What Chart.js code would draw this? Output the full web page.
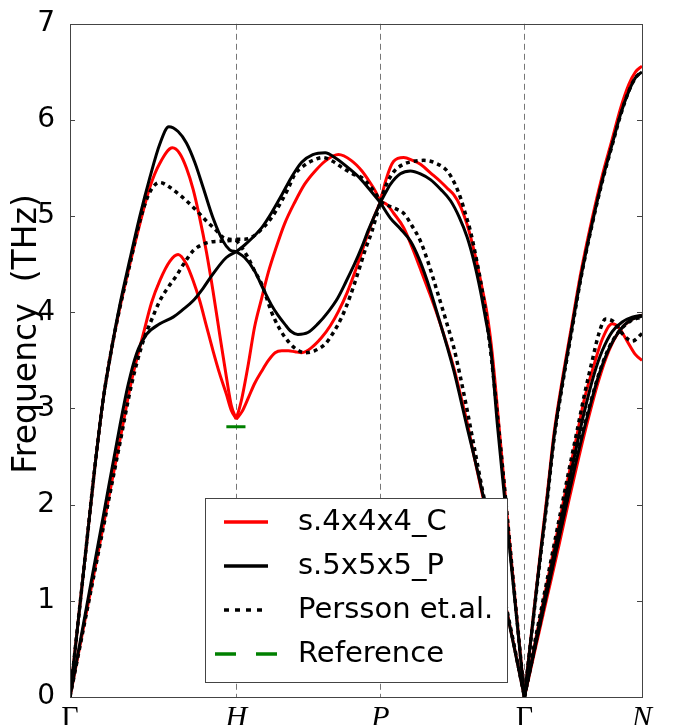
<!DOCTYPE html>
<html lang="en">
<head>
  <meta charset="UTF-8">
  <title>Phonon dispersion</title>
  <script src="https://cdn.jsdelivr.net/npm/chart.js@4.4.0/dist/chart.umd.min.js"></script>
  <style>
    body { margin: 0; background: #fff; }
  </style>
</head>
<body>
  <canvas id="myChart" width="676" height="725"></canvas>
  <script>
    // high symmetry path, distances in 2pi/a
    const kLabels = ['Γ', 'H', 'P', 'Γ', 'N']
    const kPoints = [0, 1, 1.866, 2.732, 3.439]

    // s.4x4x4_C  (red)
    const red_GH_a = [[0,0],[0.05,0.8],[0.1,1.6],[0.15,2.4],[0.2,3.1],[0.25,3.62],[0.3,4.05],[0.36,4.5],[0.42,4.92],[0.48,5.3],[0.54,5.55],[0.616,5.71],[0.66,5.65],[0.7,5.5],[0.74,5.28],[0.78,4.98],[0.82,4.63],[0.86,4.22],[0.9,3.77],[0.94,3.33],[0.97,3.03],[1,2.89]]
    const red_GH_b = [[0,0],[0.1,0.89],[0.2,1.78],[0.3,2.67],[0.37,3.29],[0.44,3.77],[0.49,4.1],[0.54,4.33],[0.6,4.53],[0.65,4.6],[0.7,4.5],[0.74,4.33],[0.78,4.12],[0.82,3.86],[0.86,3.6],[0.9,3.36],[0.94,3.15],[0.97,2.98],[1,2.89]]
    const red_HP_a = [[1,2.89],[1.03,3.08],[1.072,3.46],[1.11,3.85],[1.153,4.15],[1.193,4.42],[1.233,4.64],[1.29,4.92],[1.353,5.15],[1.41,5.33],[1.474,5.47],[1.54,5.58],[1.614,5.64],[1.69,5.58],[1.755,5.47],[1.8,5.36],[1.836,5.26],[1.866,5.15]]
    const red_HP_b = [[1,2.89],[1.035,2.97],[1.072,3.11],[1.11,3.26],[1.153,3.39],[1.193,3.5],[1.233,3.58],[1.273,3.6],[1.313,3.6],[1.353,3.59],[1.393,3.58],[1.45,3.63],[1.514,3.74],[1.565,3.86],[1.614,4.01],[1.665,4.2],[1.715,4.43],[1.755,4.63],[1.795,4.84],[1.83,5],[1.866,5.15]]
    const red_PG_a = [[1.866,5.15],[1.9,5.38],[1.946,5.57],[2.006,5.61],[2.06,5.58],[2.107,5.54],[2.167,5.45],[2.227,5.36],[2.268,5.29],[2.308,5.22],[2.348,5.1],[2.388,4.91],[2.418,4.72],[2.448,4.5],[2.478,4.25],[2.508,3.98],[2.54,3.55],[2.578,2.84],[2.62,2.04],[2.66,1.3],[2.7,0.58],[2.732,0]]
    const red_PG_b = [[1.866,5.15],[1.906,5.12],[1.946,5.03],[2.006,4.88],[2.056,4.68],[2.107,4.45],[2.157,4.22],[2.207,3.98],[2.258,3.71],[2.308,3.42],[2.348,3.14],[2.388,2.85],[2.43,2.5],[2.48,2.1],[2.55,1.55],[2.61,1.03],[2.67,0.53],[2.732,0]]
    const red_GN_a = [[2.732,0],[2.78,0.75],[2.83,1.53],[2.87,2.12],[2.91,2.74],[2.96,3.3],[3.01,3.8],[3.07,4.4],[3.14,4.98],[3.2,5.42],[3.26,5.8],[3.31,6.12],[3.36,6.37],[3.4,6.5],[3.439,6.56]]
    const red_GN_b = [[2.732,0],[2.8,0.6],[2.87,1.2],[2.94,1.8],[3,2.32],[3.05,2.74],[3.09,3.08],[3.15,3.45],[3.2,3.72],[3.26,3.88],[3.3,3.84],[3.35,3.7],[3.4,3.56],[3.439,3.5]]
    const red_GN_c = [[2.732,0],[2.8,0.52],[2.87,1.05],[2.94,1.58],[3,2.05],[3.06,2.5],[3.12,2.92],[3.18,3.3],[3.24,3.6],[3.3,3.8],[3.37,3.92],[3.439,3.97]]

    // s.5x5x5_P  (black)
    const blk_GH_a = [[0,0],[0.05,0.8],[0.1,1.6],[0.15,2.4],[0.2,3.1],[0.25,3.62],[0.3,4.08],[0.36,4.55],[0.42,5],[0.48,5.4],[0.54,5.75],[0.594,5.93],[0.65,5.88],[0.7,5.76],[0.75,5.56],[0.8,5.3],[0.86,4.98],[0.92,4.74],[0.96,4.65],[1,4.63]]
    const blk_GH_b = [[0,0],[0.1,0.94],[0.2,1.88],[0.3,2.82],[0.35,3.25],[0.4,3.57],[0.46,3.77],[0.54,3.88],[0.62,3.95],[0.68,4.03],[0.74,4.12],[0.8,4.25],[0.86,4.4],[0.94,4.57],[1,4.63]]
    const blk_HP_a = [[1,4.63],[1.05,4.7],[1.1,4.78],[1.153,4.88],[1.21,5.03],[1.273,5.22],[1.33,5.4],[1.393,5.56],[1.46,5.64],[1.534,5.66],[1.6,5.6],[1.675,5.5],[1.74,5.4],[1.795,5.29],[1.866,5.14]]
    const blk_HP_b = [[1,4.63],[1.05,4.57],[1.11,4.43],[1.16,4.25],[1.21,4.08],[1.25,3.97],[1.29,3.88],[1.33,3.8],[1.37,3.77],[1.43,3.79],[1.49,3.88],[1.55,4],[1.61,4.15],[1.66,4.32],[1.71,4.5],[1.755,4.68],[1.795,4.86],[1.83,5],[1.866,5.14]]
    const blk_PG_a = [[1.866,5.14],[1.896,5.24],[1.926,5.33],[1.986,5.44],[2.047,5.47],[2.107,5.44],[2.167,5.38],[2.228,5.28],[2.288,5.16],[2.34,4.99],[2.388,4.78],[2.43,4.52],[2.468,4.22],[2.5,3.92],[2.529,3.63],[2.569,2.84],[2.61,2.12],[2.65,1.42],[2.69,0.74],[2.732,0]]
    const blk_PG_b = [[1.866,5.14],[1.926,4.98],[1.986,4.87],[2.047,4.74],[2.1,4.55],[2.147,4.33],[2.187,4.11],[2.227,3.88],[2.268,3.64],[2.308,3.39],[2.348,3.1],[2.388,2.8],[2.43,2.5],[2.488,2.06],[2.55,1.53],[2.61,1.02],[2.67,0.52],[2.732,0]]
    const blk_GN_a = [[2.732,0],[2.78,0.74],[2.83,1.5],[2.87,2.08],[2.91,2.7],[2.96,3.26],[3.01,3.76],[3.07,4.35],[3.14,4.93],[3.2,5.37],[3.26,5.75],[3.31,6.06],[3.36,6.3],[3.4,6.44],[3.439,6.5]]
    const blk_GN_b = [[2.732,0],[2.8,0.58],[2.87,1.16],[2.94,1.74],[3,2.24],[3.05,2.64],[3.09,2.95],[3.15,3.35],[3.2,3.6],[3.26,3.8],[3.32,3.9],[3.38,3.95],[3.439,3.97]]
    const blk_GN_c = [[2.732,0],[2.8,0.55],[2.87,1.1],[2.94,1.65],[3,2.12],[3.05,2.5],[3.12,2.98],[3.18,3.35],[3.24,3.62],[3.3,3.8],[3.37,3.92],[3.439,3.96]]

    // Persson et.al.  (dotted)
    const per_GH_a = [[0,0],[0.05,0.8],[0.1,1.6],[0.15,2.4],[0.2,3.1],[0.25,3.62],[0.3,4.05],[0.36,4.5],[0.42,4.95],[0.48,5.25],[0.54,5.35],[0.6,5.3],[0.66,5.22],[0.7,5.16],[0.76,5.06],[0.82,4.95],[0.88,4.85],[0.92,4.78],[1,4.75]]
    const per_GH_b = [[0,0],[0.1,0.88],[0.2,1.76],[0.3,2.64],[0.37,3.25],[0.44,3.7],[0.49,3.92],[0.54,4.12],[0.59,4.26],[0.64,4.38],[0.69,4.52],[0.74,4.64],[0.79,4.7],[0.84,4.73],[0.9,4.74],[1,4.75]]
    const per_HP_a = [[1,4.76],[1.05,4.76],[1.092,4.78],[1.15,4.86],[1.21,4.98],[1.27,5.15],[1.31,5.28],[1.35,5.43],[1.41,5.53],[1.474,5.59],[1.52,5.61],[1.58,5.57],[1.64,5.5],[1.7,5.44],[1.755,5.4],[1.8,5.32],[1.836,5.24],[1.866,5.15]]
    const per_HP_b = [[1,4.75],[1.03,4.68],[1.07,4.57],[1.11,4.43],[1.153,4.29],[1.18,4.16],[1.21,4.01],[1.25,3.86],[1.293,3.74],[1.35,3.63],[1.414,3.58],[1.47,3.6],[1.534,3.67],[1.58,3.78],[1.634,3.95],[1.685,4.17],[1.735,4.43],[1.775,4.65],[1.815,4.84],[1.866,5.15]]
    const per_PG_a = [[1.866,5.15],[1.9,5.32],[1.946,5.46],[2.006,5.54],[2.067,5.57],[2.127,5.58],[2.2,5.55],[2.268,5.47],[2.31,5.35],[2.348,5.19],[2.378,5.02],[2.408,4.84],[2.438,4.6],[2.468,4.33],[2.5,3.98],[2.535,3.5],[2.575,2.84],[2.62,2.04],[2.66,1.3],[2.7,0.58],[2.732,0]]
    const per_PG_b = [[1.866,5.15],[1.926,5.1],[1.966,5.07],[2.006,5.03],[2.056,4.9],[2.107,4.74],[2.157,4.5],[2.207,4.22],[2.258,3.93],[2.308,3.63],[2.348,3.32],[2.388,2.98],[2.43,2.6],[2.48,2.15],[2.55,1.58],[2.61,1.05],[2.67,0.54],[2.732,0]]
    const per_GN_a = [[2.732,0],[2.78,0.73],[2.83,1.48],[2.87,2.06],[2.91,2.68],[2.96,3.24],[3.01,3.74],[3.07,4.34],[3.14,4.92],[3.2,5.36],[3.26,5.74],[3.31,6.05],[3.36,6.3],[3.4,6.44],[3.439,6.5]]
    const per_GN_b = [[2.732,0],[2.8,0.62],[2.87,1.23],[2.94,1.84],[3,2.36],[3.05,2.78],[3.09,3.12],[3.14,3.5],[3.18,3.78],[3.22,3.93],[3.27,3.9],[3.32,3.78],[3.38,3.7],[3.439,3.78]]
    const per_GN_c = [[2.732,0],[2.8,0.56],[2.87,1.12],[2.94,1.68],[3,2.15],[3.05,2.55],[3.12,3],[3.18,3.36],[3.24,3.63],[3.3,3.8],[3.37,3.91],[3.439,3.95]]

    // Reference value at H
    const ref_H = [[0.94,2.81],[1.055,2.81]]

    const redBands = [red_GH_a, red_GH_b, red_HP_a, red_HP_b, red_PG_a, red_PG_b, red_GN_a, red_GN_b, red_GN_c]
    const blkBands = [blk_GH_a, blk_GH_b, blk_HP_a, blk_HP_b, blk_PG_a, blk_PG_b, blk_GN_a, blk_GN_b, blk_GN_c]
    const perBands = [per_GH_a, per_GH_b, per_HP_a, per_HP_b, per_PG_a, per_PG_b, per_GN_a, per_GN_b, per_GN_c]

    const toXY = arr => arr.map(p => ({ x: p[0], y: p[1] }))

    let datasets = []
    redBands.forEach(b => datasets.push({ data: toXY(b), borderColor: '#ff0000', borderWidth: 3, order: 3 }))
    blkBands.forEach(b => datasets.push({ data: toXY(b), borderColor: '#000000', borderWidth: 3, order: 2 }))
    perBands.forEach(b => datasets.push({ data: toXY(b), borderColor: '#000000', borderWidth: 3.5, borderDash: [4, 4], order: 1 }))
    datasets.push({ data: toXY(ref_H), borderColor: '#008000', borderWidth: 3, tension: 0, order: 0 })

    const legendItems = [
      { text: 's.4x4x4_C', color: '#ff0000', dash: [] },
      { text: 's.5x5x5_P', color: '#000000', dash: [] },
      { text: 'Persson et.al.', color: '#000000', dash: [5, 6] },
      { text: 'Reference', color: '#008000', dash: [21, 20] }
    ]

    const decor = {
      id: 'decor',
      beforeDatasetsDraw(chart) {
        const { ctx, chartArea: a, scales: { x } } = chart
        ctx.save()
        ctx.strokeStyle = '#777'
        ctx.lineWidth = 1
        ctx.setLineDash([6, 4])
        kPoints.slice(1, 4).forEach(k => {
          const px = Math.round(x.getPixelForValue(k)) + 0.5
          ctx.beginPath()
          ctx.moveTo(px, a.top)
          ctx.lineTo(px, a.bottom)
          ctx.stroke()
        })
        ctx.restore()
      },
      afterDatasetsDraw(chart) {
        const { ctx, chartArea: a, scales: { y } } = chart
        ctx.save()
        ctx.strokeStyle = '#444'
        ctx.lineWidth = 1
        ctx.strokeRect(Math.round(a.left) + 0.5, Math.round(a.top) + 0.5, Math.round(a.right - a.left), Math.round(a.bottom - a.top))
        // inward ticks
        for (let v = 1; v < 7; v++) {
          const py = Math.round(y.getPixelForValue(v)) + 0.5
          ctx.beginPath()
          ctx.moveTo(a.left, py); ctx.lineTo(a.left + 5, py)
          ctx.moveTo(a.right, py); ctx.lineTo(a.right - 5, py)
          ctx.stroke()
        }
        // y axis title
        ctx.fillStyle = '#000'
        ctx.font = '33px "DejaVu Sans"'
        ctx.textAlign = 'center'
        ctx.textBaseline = 'middle'
        ctx.translate(27, 334)
        ctx.rotate(-Math.PI / 2)
        ctx.fillText('Frequency  (THz)', 0, 0)
        ctx.restore()
      },
      afterDraw(chart) {
        const { ctx } = chart
        ctx.save()
        ctx.fillStyle = '#fff'
        ctx.fillRect(205, 498, 302, 184)
        ctx.strokeStyle = '#444'
        ctx.lineWidth = 1
        ctx.strokeRect(205.5, 498.5, 302, 184)
        ctx.font = '29px "DejaVu Sans"'
        ctx.textBaseline = 'middle'
        ctx.textAlign = 'left'
        legendItems.forEach((it, i) => {
          const ly = 522 + i * 44
          ctx.strokeStyle = it.color
          ctx.lineWidth = 3.5
          ctx.setLineDash(it.dash)
          ctx.beginPath()
          if (i === 3) { ctx.moveTo(215, ly); ctx.lineTo(277, ly) }
          else { ctx.moveTo(224, ly); ctx.lineTo(268, ly) }
          ctx.stroke()
          ctx.setLineDash([])
          ctx.fillStyle = '#000'
          ctx.fillText(it.text, 298, ly)
        })
        ctx.restore()
      }
    }

    const ctx = document.getElementById('myChart').getContext('2d')
    const myChart = new Chart(ctx, {
      type: 'line',
      data: { datasets: datasets },
      options: {
        responsive: false,
        animation: false,
        layout: { padding: { left: 0, right: 34, top: 22, bottom: 0 } },
        plugins: { legend: { display: false }, tooltip: { enabled: false } },
        elements: {
          point: { radius: 0 },
          line: { tension: 0.4, cubicInterpolationMode: 'monotone', fill: false }
        },
        scales: {
          x: {
            type: 'linear',
            min: 0,
            max: 3.439,
            grid: { display: false },
            border: { display: false },
            afterBuildTicks: s => { s.ticks = kPoints.map(v => ({ value: v })) },
            afterFit: s => { s.height = 28 },
            ticks: {
              autoSkip: false,
              maxRotation: 0,
              padding: -5,
              color: '#000',
              font: c => ({ family: 'Liberation Serif', size: 30, style: (c.index === 0 || c.index === 3) ? 'normal' : 'italic' }),
              callback: (v, i) => kLabels[i]
            }
          },
          y: {
            min: 0,
            max: 7,
            grid: { display: false },
            border: { display: false },
            afterFit: s => { s.width = 70 },
            ticks: { stepSize: 1, padding: 7, color: '#000', font: { family: 'DejaVu Sans', size: 28 } }
          }
        }
      },
      plugins: [decor]
    })
  </script>
</body>
</html>
